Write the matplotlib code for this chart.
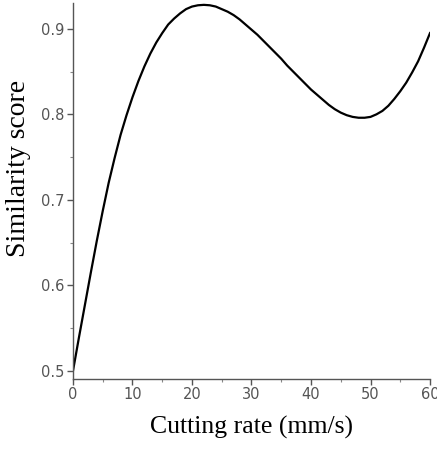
import matplotlib
matplotlib.use("Agg")
import matplotlib.pyplot as plt
from matplotlib.ticker import MultipleLocator

# values, one per mm/s
cutting_rate = list(range(0, 61))
similarity = [0.500, 0.539, 0.577, 0.615, 0.652, 0.687, 0.720, 0.749, 0.776,
              0.799, 0.820, 0.839, 0.856, 0.871, 0.884, 0.895, 0.905, 0.912,
              0.918, 0.923, 0.926, 0.9275, 0.928, 0.9275, 0.926, 0.923, 0.920,
              0.916, 0.911, 0.905, 0.899, 0.893, 0.886, 0.879, 0.872, 0.865,
              0.857, 0.850, 0.843, 0.836, 0.829, 0.823, 0.817, 0.811, 0.806,
              0.802, 0.799, 0.797, 0.796, 0.796, 0.797, 0.800, 0.804, 0.810,
              0.818, 0.827, 0.837, 0.849, 0.862, 0.878, 0.895]

x_ticks = [0, 10, 20, 30, 40, 50, 60]
y_ticks = [0.5, 0.6, 0.7, 0.8, 0.9]

fig = plt.figure(figsize=(4.37, 4.49), dpi=100)
ax = fig.add_axes([0.167, 0.156, 0.817, 0.837])

ax.plot(cutting_rate, similarity, color="black", lw=1.6)

ax.set_xlim(0, 60)
ax.set_ylim(0.4906, 0.930)
ax.set_xticks(x_ticks)
ax.set_yticks(y_ticks)
ax.set_yticklabels([f"{v:.1f}" for v in y_ticks])
ax.xaxis.set_minor_locator(MultipleLocator(5))
ax.yaxis.set_minor_locator(MultipleLocator(0.05))

for side in ("top", "right"):
    ax.spines[side].set_visible(False)
for side in ("left", "bottom"):
    ax.spines[side].set_color("#555555")
    ax.spines[side].set_linewidth(1.0)

ax.tick_params(which="major", direction="out", length=4, width=1,
               color="#555555", labelcolor="#555555", labelsize=10.5)
ax.tick_params(which="minor", direction="out", length=2, width=0.8,
               color="#888888")
ax.tick_params(axis="x", pad=2)
ax.tick_params(axis="y", pad=2)

serif = ["Liberation Serif", "DejaVu Serif"]
ax.set_xlabel("Cutting rate (mm/s)", family=serif, fontsize=18.5, labelpad=10)
ax.set_ylabel("Similarity score", family=serif, fontsize=20, labelpad=6)
ax.yaxis.set_label_coords(-0.118, 0.56)

fig.savefig("out.png", dpi=100)
